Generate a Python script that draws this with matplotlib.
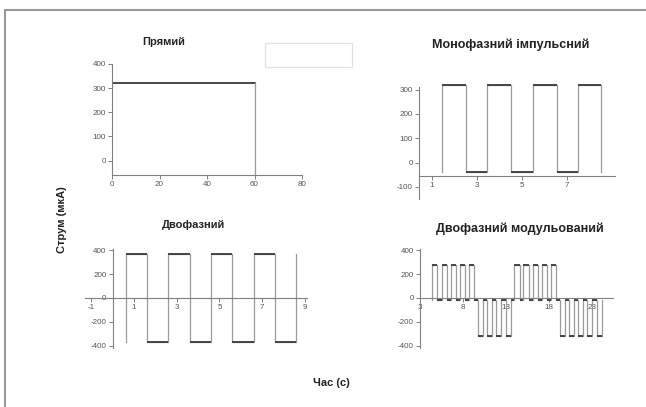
import matplotlib.pyplot as plt
from matplotlib.patches import Rectangle

plt.rcParams['font.family'] = ['Liberation Sans', 'DejaVu Sans']
plt.rcParams['axes.unicode_minus'] = False

W, H = 646, 407

# Прямий
direct_t = [0, 60, 60]
direct_i = [320, 320, -60]

# Монофазний імпульсний
mono_edges = [1.45, 2.5, 3.45, 4.5, 5.5, 6.55, 7.5, 8.5]
mono_levels = [320, -40, 320, -40, 320, -40, 320]
mono_rest = -40

# Двофазний
bi_edges = [0.6, 1.6, 2.6, 3.6, 4.6, 5.6, 6.6, 7.6, 8.6]
bi_levels = [370, -370, 370, -370, 370, -370, 370, -370]
bi_start, bi_end = -370, 370

# Двофазний модульований
mod_starts = [4.4, 5.5, 6.6, 7.65, 8.7,
              9.75, 10.8, 11.85, 12.95,
              13.95, 15.0, 16.1, 17.15, 18.2,
              19.25, 20.25, 21.3, 22.4, 23.5]
mod_levels = [280] * 5 + [-320] * 4 + [280] * 5 + [-320] * 5
mod_width = 0.6
mod_base = -15

VERT = '#9a9a9a'
FLAT = '#3a3a3a'
AXC = '#808080'
TXT = '#555555'


def px_axes(fig, x0, y0, x1, y1):
    return fig.add_axes([x0 / W, 1 - y1 / H, (x1 - x0) / W, (y1 - y0) / H])


def step_path(edges, levels, start, end):
    xs, ys = [edges[0]], [start]
    for i, lv in enumerate(levels):
        xs += [edges[i], edges[i + 1]]
        ys += [lv, lv]
    xs.append(edges[-1])
    ys.append(end)
    return xs, ys


def draw_steps(ax, edges, levels, start, end):
    xs, ys = step_path(edges, levels, start, end)
    ax.plot(xs, ys, color=VERT, lw=0.9)
    ax.hlines(levels, edges[:-1], edges[1:], color=FLAT, lw=1.3)


def style(ax):
    for s in ['top', 'right']:
        ax.spines[s].set_visible(False)
    for s in ['left', 'bottom']:
        ax.spines[s].set_color(AXC)
        ax.spines[s].set_linewidth(0.8)
    ax.tick_params(colors=AXC, labelcolor=TXT, labelsize=5.8, length=3,
                   width=0.7, pad=1.5)
    ax.patch.set_alpha(0)


fig = plt.figure(figsize=(W / 100, H / 100), dpi=100)

# frame
fig.add_artist(Rectangle((5 / W, -0.1), 1.2, 1 - 10 / H + 0.1,
                         transform=fig.transFigure, fill=False,
                         edgecolor='#999999', lw=1.5))
fig.add_artist(Rectangle((265 / W, 1 - 67 / H), 87 / W, 24 / H,
                         transform=fig.transFigure, fill=False,
                         edgecolor='#e2e2e2', lw=0.9))

# top-left
ax1 = px_axes(fig, 112, 64, 302, 175)
ax1.plot(direct_t[:2], direct_i[:2], color=FLAT, lw=1.3)
ax1.plot(direct_t[1:], direct_i[1:], color=VERT, lw=0.9)
ax1.set_xlim(0, 80)
ax1.set_ylim(-60, 400)
ax1.set_xticks([0, 20, 40, 60, 80])
ax1.set_yticks([0, 100, 200, 300, 400])
style(ax1)

# top-right
ax2 = px_axes(fig, 419, 81, 615, 199)
draw_steps(ax2, mono_edges, mono_levels, mono_rest, mono_rest)
ax2.set_xlim(0.42, 9.13)
ax2.set_ylim(-150, 335)
ax2.spines['left'].set_bounds(-150, 310)
ax2.spines['bottom'].set_position(('data', -55))
ax2.set_xticks([1, 3, 5, 7])
ax2.set_yticks([-100, 0, 100, 200, 300])
style(ax2)

# bottom-left
ax3 = px_axes(fig, 85, 249, 307, 348)
draw_steps(ax3, bi_edges, bi_levels, bi_start, bi_end)
ax3.set_xlim(-1.3, 9.1)
ax3.set_ylim(-420, 410)
ax3.spines['left'].set_position(('data', 0))
ax3.spines['bottom'].set_position(('data', 0))
ax3.set_xticks([-1, 1, 3, 5, 7, 9])
ax3.set_yticks([-400, -200, 0, 200, 400])
style(ax3)

# bottom-right
ax4 = px_axes(fig, 420, 249, 613, 348)
mod_edges, mod_seg = [], []
for i, (s, lv) in enumerate(zip(mod_starts, mod_levels)):
    mod_edges += [s, s + mod_width]
    mod_seg.append(lv)
    if i < len(mod_starts) - 1:
        mod_seg.append(mod_base)
draw_steps(ax4, mod_edges, mod_seg, mod_base, mod_base)
ax4.set_xlim(3, 25.4)
ax4.set_ylim(-420, 410)
ax4.spines['bottom'].set_position(('data', 0))
ax4.set_xticks([3, 8, 13, 18, 23])
ax4.set_yticks([-400, -200, 0, 200, 400])
style(ax4)

# titles
tkw = dict(ha='center', va='center', fontsize=8, fontweight='bold',
           color='#222222')
fig.text(164 / W, 1 - 42 / H, 'Прямий', **tkw)
fig.text(193 / W, 1 - 225 / H, 'Двофазний', **tkw)
tkw['fontsize'] = 9
fig.text(511 / W, 1 - 45 / H, 'Монофазний імпульсний', **tkw)
fig.text(520 / W, 1 - 229 / H, 'Двофазний модульований', **tkw)
tkw['fontsize'] = 8
fig.text(62 / W, 1 - 220 / H, 'Струм (мкА)', rotation=90, **tkw)
fig.text(331 / W, 1 - 383 / H, 'Час (с)', **tkw)

fig.savefig('out.png', dpi=100)
